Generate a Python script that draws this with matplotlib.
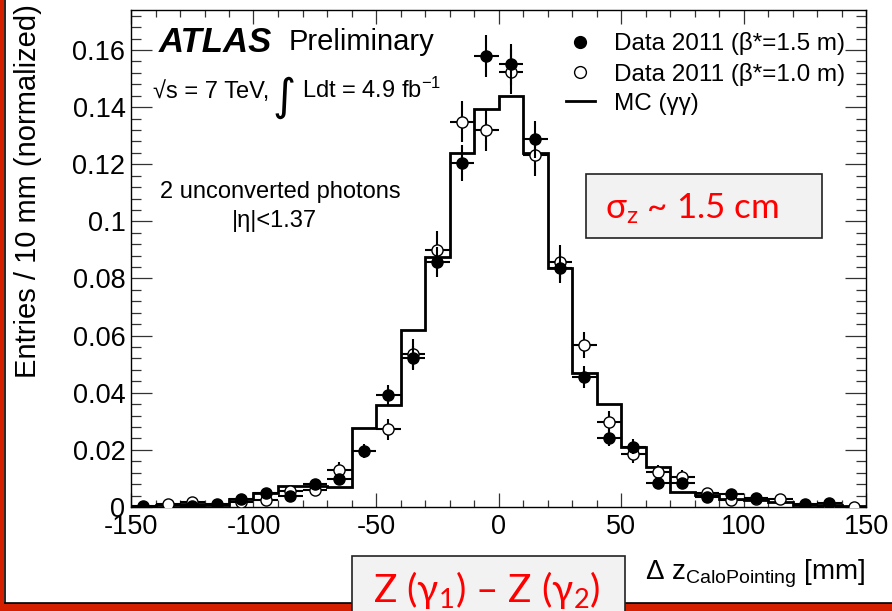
import matplotlib
matplotlib.use("Agg")
import matplotlib.pyplot as plt
import numpy as np
from matplotlib.lines import Line2D
from matplotlib.patches import Rectangle
from matplotlib.ticker import MultipleLocator, FuncFormatter

# bin edges of the Delta z histogram (10 mm bins)
edges = np.arange(-150, 151, 10)
centers = edges[:-1] + 5

# MC (gamma gamma), one value per bin
mc = [0.0003, 0.0008, 0.0010, 0.0007, 0.0028, 0.0048, 0.0075, 0.0072, 0.0070, 0.0278,
      0.0356, 0.0618, 0.0876, 0.1238, 0.1395, 0.1438, 0.1238, 0.0835, 0.0470, 0.0359,
      0.0211, 0.0139, 0.0054, 0.0042, 0.0028, 0.0025, 0.0019, 0.0007, 0.0007, 0.0003]

# Data 2011, beta* = 1.5 m (nan = point not shown)
d15 = [0.0003, np.nan, 0.0004, 0.0010, 0.0027, 0.0048, 0.0039, 0.0080, 0.0098, 0.0196,
       0.0393, 0.0523, 0.0857, 0.1203, 0.1580, 0.1550, 0.1287, 0.0836, 0.0456, 0.0243,
       0.0211, 0.0083, 0.0085, 0.0036, 0.0044, 0.0033, np.nan, 0.0010, 0.0015, np.nan]
d15_err = [0.0003, 0.0, 0.0004, 0.0006, 0.0009, 0.0012, 0.0011, 0.0016, 0.0018, 0.0025,
           0.0035, 0.0042, 0.0053, 0.0063, 0.0074, 0.0072, 0.0065, 0.0052, 0.0039, 0.0028,
           0.0026, 0.0017, 0.0017, 0.0011, 0.0012, 0.0010, 0.0, 0.0006, 0.0007, 0.0]

# Data 2011, beta* = 1.0 m
d10 = [np.nan, 0.0010, 0.0019, np.nan, 0.0016, 0.0025, 0.0057, 0.0060, 0.0130, np.nan,
       0.0272, 0.0535, 0.0900, 0.1349, 0.1320, 0.1524, 0.1232, 0.0857, 0.0567, 0.0298,
       0.0184, 0.0124, 0.0106, 0.0048, 0.0025, 0.0028, 0.0028, np.nan, 0.0002, 0.0001]
d10_err = [0.0, 0.0007, 0.0010, 0.0, 0.0010, 0.0012, 0.0017, 0.0018, 0.0026, 0.0,
           0.0037, 0.0052, 0.0068, 0.0072, 0.0072, 0.0078, 0.0072, 0.0060, 0.0047, 0.0038,
           0.0029, 0.0024, 0.0022, 0.0015, 0.0011, 0.0011, 0.0011, 0.0, 0.0003, 0.0002]

plt.rcParams['font.family'] = ['Liberation Sans', 'DejaVu Sans']
plt.rcParams['mathtext.fontset'] = 'custom'
plt.rcParams['mathtext.rm'] = 'Liberation Sans'
plt.rcParams['mathtext.it'] = 'Liberation Sans:italic'
plt.rcParams['axes.unicode_minus'] = False

W, H = 892, 611
fig = plt.figure(figsize=(W / 100, H / 100), dpi=100)


def fx(x):
    return x / W


def fy(y):
    return 1 - y / H


ax = fig.add_axes([fx(131), fy(507), 735 / W, 497 / H])

ax.stairs(mc, edges, color='black', lw=2.0, zorder=2)
ax.errorbar(centers, d10, yerr=d10_err, xerr=5, fmt='o', ms=8, mfc='white', mec='black',
            mew=1.0, ecolor='black', elinewidth=1.5, capsize=0, zorder=3)
ax.errorbar(centers, d15, yerr=d15_err, xerr=5, fmt='o', ms=8, mfc='black', mec='black',
            ecolor='black', elinewidth=1.5, capsize=0, zorder=4)

ax.set_xlim(-150, 150)
ax.set_ylim(0, 0.174)
ax.xaxis.set_major_locator(MultipleLocator(50))
ax.xaxis.set_minor_locator(MultipleLocator(10))
ax.yaxis.set_major_locator(MultipleLocator(0.02))
ax.yaxis.set_minor_locator(MultipleLocator(0.004))
ax.yaxis.set_major_formatter(FuncFormatter(lambda v, p: '%g' % round(v, 3)))
ax.tick_params(which='both', direction='in', top=True, right=True, color='#333333', width=0.9,
               labelsize=19.5)
ax.tick_params(axis='x', which='major', length=10, pad=5)
ax.tick_params(axis='x', which='minor', length=5)
ax.tick_params(axis='y', which='major', length=15, pad=4)
ax.tick_params(axis='y', which='minor', length=7.5)
for s in ax.spines.values():
    s.set_linewidth(1.0)

# legend
handles = [Line2D([], [], marker='o', ls='none', color='black', ms=8.5),
           Line2D([], [], marker='o', ls='none', mfc='white', mec='black', ms=8.5),
           Line2D([], [], color='black', lw=2)]
labels = ['Data 2011 (β*=1.5 m)', 'Data 2011 (β*=1.0 m)', 'MC (γγ)']
ax.legend(handles, labels, loc='upper right', bbox_to_anchor=(0.972, 0.955), frameon=False,
          fontsize=17.5, borderpad=0, borderaxespad=0, labelspacing=0.3, handlelength=1.2,
          handletextpad=0.8)

# ATLAS labels
fig.text(fx(159), fy(42), 'ATLAS', fontsize=25, fontweight='bold', style='italic',
         ha='left', va='center')
fig.text(fx(289), fy(42), 'Preliminary', fontsize=21, ha='left', va='center')
fig.text(fx(153), fy(98), '√s = 7 TeV,', fontsize=17, ha='left', va='baseline')
fig.text(fx(272), fy(110), '∫', fontsize=32, ha='left', va='baseline', family='DejaVu Sans')
fig.text(fx(302), fy(98), r'Ldt = 4.9 fb$^{\mathregular{-1}}$', fontsize=17, ha='left',
         va='baseline')
fig.text(fx(280), fy(192), '2 unconverted photons', fontsize=17, ha='center', va='center')
fig.text(fx(274), fy(221), '|η|<1.37', fontsize=17, ha='center', va='center')

# axis titles
fig.text(fx(28), fy(4), 'Entries / 10 mm (normalized)', fontsize=21, rotation=90,
         ha='center', va='top')
fig.text(fx(866), fy(574), r'Δ z$_{\mathregular{CaloPointing}}$ [mm]', fontsize=20,
         ha='right', va='center')

# red frame on left and bottom
fig.patches.append(Rectangle((0, 0), fx(4), 1, transform=fig.transFigure,
                             facecolor='#d42000', edgecolor='none', zorder=0))
fig.patches.append(Rectangle((0, 0), 1, 8 / H, transform=fig.transFigure,
                             facecolor='#d42000', edgecolor='none', zorder=0))
fig.add_artist(Line2D([fx(4.5), fx(4.5)], [fy(603), 1], transform=fig.transFigure,
                      color='black', lw=1.2))
fig.add_artist(Line2D([fx(4.5), 1], [fy(603), fy(603)], transform=fig.transFigure,
                      color='black', lw=1.2))

# annotation boxes
fam = ['Lato', 'DejaVu Sans']
fig.add_artist(Rectangle((fx(586), fy(238)), (822 - 586) / W, (238 - 174) / H,
                         transform=fig.transFigure, facecolor='#f2f2f2', edgecolor='#222222',
                         lw=1.2, zorder=5))
fig.text(fx(605), fy(209), r'σ$_{\mathregular{z}}$ ~ 1.5 cm', fontsize=25, color='red',
         ha='left', va='center', family=fam, zorder=6)
fig.add_artist(Rectangle((fx(352), fy(615)), (625 - 352) / W, (615 - 556) / H,
                         transform=fig.transFigure, facecolor='#f2f2f2', edgecolor='#222222',
                         lw=1.2, zorder=5))
fig.text(fx(487), fy(590), r'Z (γ$_{\mathregular{1}}$) – Z (γ$_{\mathregular{2}}$)', fontsize=28,
         color='red', ha='center', va='center', family=fam, zorder=6)

fig.savefig('out.png', dpi=100)
